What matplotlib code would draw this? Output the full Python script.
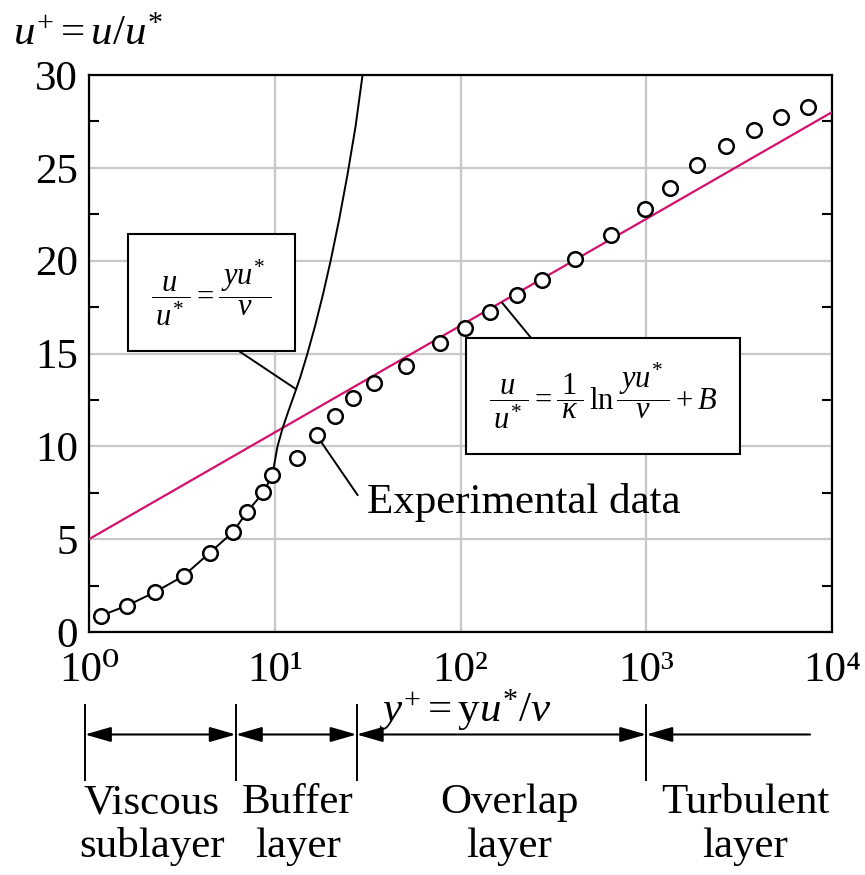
import numpy as np
import matplotlib
matplotlib.use("Agg")
import matplotlib.pyplot as plt
from matplotlib.ticker import NullLocator

plt.rcParams['font.family'] = ['Liberation Serif', 'DejaVu Serif']
plt.rcParams['mathtext.fontset'] = 'custom'
plt.rcParams['mathtext.rm'] = 'Liberation Serif'
plt.rcParams['mathtext.it'] = 'Liberation Serif:italic'
plt.rcParams['mathtext.bf'] = 'Liberation Serif:bold'

data_y = [1.16, 1.6, 2.26, 3.23, 4.47, 5.97, 7.07, 8.69, 9.71, 13.1, 16.8, 21.0,
          26.4, 34.3, 51.1, 77.1, 106, 145, 202, 273, 415, 646, 984, 1340,
          1866, 2680, 3811, 5300, 7430]
data_u = [0.88, 1.42, 2.14, 3.02, 4.27, 5.39, 6.45, 7.52, 8.47, 9.35, 10.63, 11.65,
          12.58, 13.39, 14.32, 15.55, 16.39, 17.25, 18.15, 18.96, 20.10, 21.38, 22.76, 23.93,
          25.13, 26.19, 27.05, 27.72, 28.29]

# viscous sublayer curve u/u* = yu*/nu
visc_y = [1.16, 1.6, 2.26, 3.23, 4.47, 5.97, 7.07, 8.69, 9.71, 10.35, 11.0, 11.8,
          12.7, 13.7, 15.0, 16.5, 18.2, 20.0, 22.2, 24.6, 27.2, 29.7]
visc_u = [0.88, 1.42, 2.14, 3.02, 4.27, 5.39, 6.45, 7.52, 8.47, 10.0, 10.95, 11.85,
          12.75, 13.7, 15.0, 16.5, 18.2, 20.0, 22.2, 24.6, 27.2, 30.0]

# log law line
log_y = [1, 1e4]
log_u = [5.0, 28.0]

decades = [1, 10, 100, 1000, 10000]
decade_labels = ['10⁰', '10¹', '10²', '10³', '10⁴']

# layer boundaries and names below the axis
bounds = [0.95, 6.17, 27.6, 1000]
turb_end = 7620
layer_x = [2.18, 13.3, 183, 3406]
layer_top = ['Viscous', 'Buffer', 'Overlap', 'Turbulent']
layer_bot = ['sublayer', 'layer', 'layer', 'layer']

W, H = 865, 875
fig = plt.figure(figsize=(W / 100, H / 100), dpi=100)
ax = fig.add_axes([89 / W, 1 - 632 / H, (832 - 89) / W, (632 - 75) / H])

ax.set_xscale('log')
ax.set_xlim(1, 1e4)
ax.set_ylim(0, 30)
ax.set_axisbelow(True)
ax.grid(True, which='major', color='#c8c8c8', lw=1.6)

ax.set_xticks(decades)
ax.set_xticklabels(decade_labels)
ax.xaxis.set_minor_locator(NullLocator())
ax.set_yticks(range(0, 31, 5))
ax.set_yticks(np.arange(2.5, 30, 5), minor=True)
ax.tick_params(axis='x', which='major', length=0, pad=14, labelsize=31)
ax.tick_params(axis='y', which='major', length=0, pad=8, labelsize=31)
ax.tick_params(axis='y', which='minor', direction='in', length=7.5, width=1.5,
               left=True, right=True)
for s in ax.spines.values():
    s.set_linewidth(1.6)

ax.plot(log_y, log_u, color='#d4106c', lw=1.6, zorder=3)
ax.plot(visc_y, visc_u, color='black', lw=1.4, zorder=3)
ax.plot(data_y, data_u, 'o', mfc='white', mec='black', ms=10.5, mew=1.8, zorder=4)

# callouts
box = dict(boxstyle='square,pad=0.75', fc='white', ec='black', lw=1.5)
ax.plot([5.95, 12.97], [15.35, 13.09], color='black', lw=1.4, zorder=3)
ax.text(4.56, 18.28, r'$\dfrac{\:u\:}{\:u^{*}\:} = \dfrac{\:yu^{*}\:}{\nu}$',
        fontsize=22, ha='center', va='center', bbox=box, zorder=5)
ax.plot([250, 168], [15.62, 17.72], color='black', lw=1.4, zorder=3)
ax.text(587, 12.71,
        r'$\dfrac{\:u\:}{\:u^{*}\:} = \dfrac{\:1\:}{\kappa}\,\ln\dfrac{\:yu^{*}\:}{\nu} + B$',
        fontsize=22, ha='center', va='center', bbox=box, zorder=5)
ax.plot([27.9, 17.6], [7.38, 10.3], color='black', lw=1.4, zorder=3)
ax.text(31.2, 6.41, 'Experimental data', fontsize=31, ha='left', va='baseline')

ax.set_ylabel(r'$u^{+} = u/u^{*}$', fontsize=31, rotation=0, ha='left', va='baseline')
ax.yaxis.set_label_coords(-0.102, 1.054)
ax.set_xlabel(r'$y^{+} = \mathrm{y}u^{*}/\nu$', fontsize=31, va='center')
ax.xaxis.set_label_coords(0.506, -0.141)

# layer markers below the axis
tr = ax.get_xaxis_transform()
for b in bounds:
    ax.plot([b, b], [-0.131, -0.266], color='black', lw=1.4, transform=tr, clip_on=False)
arr = dict(arrowstyle='<|-|>,head_length=0.8,head_width=0.23', color='black', lw=1.5,
           mutation_scale=20, shrinkA=0, shrinkB=0)
for a, b in zip(bounds[:-1], bounds[1:]):
    ax.annotate('', xy=(b, -0.184), xytext=(a, -0.184), xycoords=tr, textcoords=tr,
                arrowprops=arr, annotation_clip=False)
arr1 = dict(arr, arrowstyle='-|>,head_length=0.8,head_width=0.23')
ax.annotate('', xy=(bounds[-1], -0.184), xytext=(turb_end, -0.184), xycoords=tr,
            textcoords=tr, arrowprops=arr1, annotation_clip=False)
for x, t1, t2 in zip(layer_x, layer_top, layer_bot):
    ax.text(x, -0.325, t1, fontsize=31, ha='center', va='baseline', transform=tr)
    ax.text(x, -0.404, t2, fontsize=31, ha='center', va='baseline', transform=tr)

fig.savefig('out.png', dpi=100)
